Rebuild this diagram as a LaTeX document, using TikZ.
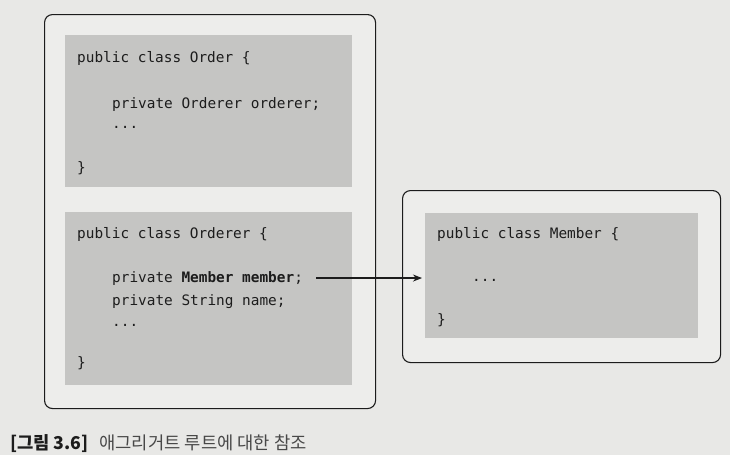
\documentclass[tikz,border=0pt]{standalone}
\usepackage{fontspec}
\setmonofont{DejaVu Sans Mono}
\newfontfamily\krfont{Noto Sans CJK KR}
\usetikzlibrary{arrows,arrows.meta,positioning}
\definecolor{paper}{HTML}{E8E8E6}
\definecolor{panelbg}{HTML}{EDEDEB}
\definecolor{shade}{HTML}{C5C5C3}
\definecolor{ink}{HTML}{1C1C1C}
\definecolor{capink}{HTML}{484848}
\tikzstyle{panel}=[draw=ink,line width=1.1pt,rounded corners=8pt,fill=panelbg,
anchor=north west,inner sep=0pt]
\tikzstyle{code box}=[fill=shade,anchor=north west,inner sep=0pt]
\tikzstyle{code line}=[anchor=base west,inner sep=0pt,text=ink,
font=\ttfamily\fontsize{14.4}{17}\selectfont]

\begin{document}
\begin{tikzpicture}[x=1pt,y=-1pt,>={Stealth[length=9pt,width=7pt]}]
  \fill[paper] (0,0) rectangle (730,455);
  \useasboundingbox (0,0) rectangle (730,455);

  % panels
  \node[panel,minimum width=331pt,minimum height=394pt] (left) at (44,14) {};
  \node[panel,minimum width=318pt,minimum height=172pt] (right) at (402,190) {};
  \node[code box,minimum width=287pt,minimum height=152pt] (order) at (65,35) {};
  \node[code box,minimum width=287pt,minimum height=173pt] (orderer) at (65,212) {};
  \node[code box,minimum width=273pt,minimum height=125pt] (member) at (425,213) {};

  % class Order
  \node[code line] (o1) at (77,62) {public class Order \{};
  \node[code line] (o2) at (112,108) {private Orderer orderer;};
  \node[code line] (o3) at (112,128) {...};
  \node[code line] (o4) at (77,172) {\}};

  % class Orderer
  \node[code line] (r1) at (77,238) {public class Orderer \{};
  \node[code line] (r2) at (112,282) {private \textbf{Member member};};
  \node[code line] (r3) at (112,305) {private String name;};
  \node[code line] (r4) at (112,326) {...};
  \node[code line] (r5) at (77,367) {\}};

  % class Member
  \node[code line] (m1) at (437,238) {public class Member \{};
  \node[code line] (m2) at (472,281) {...};
  \node[code line] (m3) at (437,324) {\}};

  \draw[->,ink,line width=1.1pt,shorten >=3pt] ([xshift=13pt]r2.east) -- (r2.east -| member.west);

  \node[anchor=base west,inner sep=0pt,text=capink,font=\krfont\fontsize{17.7}{21}\selectfont]
    (caption) at (10,449) {{\bfseries\color{ink}[그림 3.6]}\hspace{0.6em}애그리거트 루트에 대한 참조};
\end{tikzpicture}
\end{document}
